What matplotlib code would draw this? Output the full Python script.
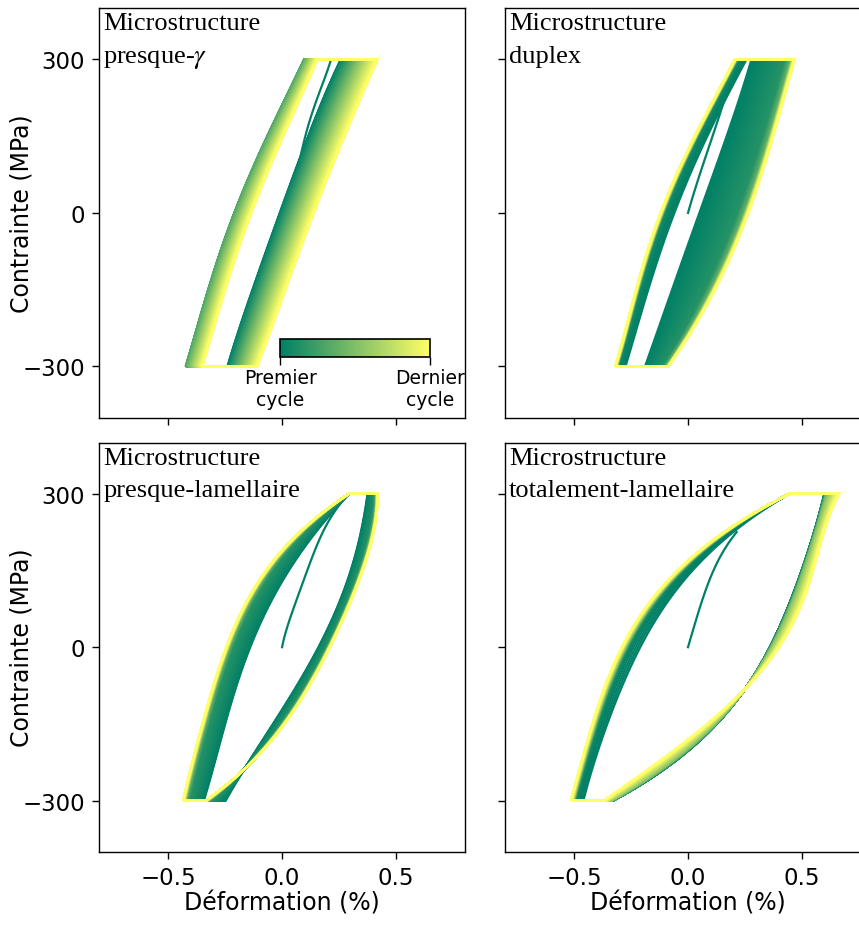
import numpy as np
import matplotlib
matplotlib.use("Agg")
import matplotlib.pyplot as plt
from matplotlib.collections import LineCollection
from matplotlib.cm import ScalarMappable
from matplotlib.colors import Normalize

# Stress levels (MPa) at which the branch strains (%) were read
stress_levels = [-300, -150, 0, 150, 300]
n_cycles = 200

# Panel 1: presque-gamma
pg_left_first = [-0.424, -0.325, -0.21, -0.065, 0.097]
pg_left_last = [-0.351, -0.25, -0.135, 0.005, 0.155]
pg_right_first = [-0.24, -0.13, -0.01, 0.115, 0.258]
pg_right_last = [-0.109, 0.015, 0.14, 0.275, 0.42]
pg_left_drift = ([0, 0.3, 1], [0.3, 0, 1])
pg_right_drift = ([0, 1], [0, 1])
pg_load_strain = [0, 0.053, 0.09, 0.126, 0.148, 0.192, 0.214]
pg_load_stress = [0, 60, 125, 184, 223, 263, 300]

# Panel 2: duplex
dx_left_first = [-0.275, -0.175, -0.06, 0.085, 0.257]
dx_left_last = [-0.32, -0.228, -0.12, 0.03, 0.206]
dx_right_first = [-0.189, -0.07, 0.05, 0.17, 0.279]
dx_right_last = [-0.086, 0.118, 0.265, 0.374, 0.469]
dx_left_drift = ([0, 0.03, 0.1, 1], [0, 0.5, 0.8, 1])
dx_right_drift = ([0, 0.15, 0.4, 1], [0, 0.8, 0.93, 1])
dx_load_strain = [0, 0.089, 0.177, 0.21]
dx_load_stress = [0, 125, 246, 300]

# Panel 3: presque-lamellaire
pl_left_first = [-0.344, -0.25, -0.14, 0.03, 0.295]
pl_left_last = [-0.435, -0.35, -0.245, -0.07, 0.295]
pl_right_first = [-0.248, -0.04, 0.16, 0.302, 0.376]
pl_right_last = [-0.336, 0.01, 0.21, 0.354, 0.42]
pl_left_drift = ([0, 0.15, 0.4, 1], [0, 0.75, 0.9, 1])
pl_right_drift = ([0, 0.15, 0.4, 1], [0, 0.75, 0.9, 1])
pl_load_strain = [0, 0.05, 0.11, 0.17, 0.23, 0.295]
pl_load_stress = [0, 75, 150, 215, 265, 300]

# Panel 4: totalement-lamellaire
tl_left_first = [-0.46, -0.355, -0.21, 0.02, 0.447]
tl_left_last = [-0.515, -0.42, -0.29, -0.045, 0.447]
tl_right_first = [-0.33, 0.126, 0.36, 0.50, 0.60]
tl_right_last = [-0.37, 0.085, 0.40, 0.55, 0.665]
tl_left_drift = ([0, 0.02, 0.1, 1], [0, 0.5, 0.7, 1])
tl_right_drift = ([0, 0.5, 1], [0, 0.2, 1])
tl_load_strain = [0, 0.04, 0.096, 0.17, 0.214]
tl_load_stress = [0, 60, 133, 198, 225]

titles = ["Microstructure\npresque-$\\gamma$", "Microstructure\nduplex",
          "Microstructure\npresque-lamellaire", "Microstructure\ntotalement-lamellaire"]

cmap = plt.get_cmap("summer")
plt.rcParams["mathtext.fontset"] = "stix"


def smooth(xk, yk, x):
    # smooth polynomial through the read points
    deg = min(4, len(xk) - 1)
    return np.polyval(np.polyfit(xk, yk, deg), x)


def draw_panel(ax, lf, ll, rf, rl, ldrift, rdrift, load_e, load_s):
    s_dense = np.linspace(-300, 300, 240)
    lf_c, ll_c = smooth(stress_levels, lf, s_dense), smooth(stress_levels, ll, s_dense)
    rf_c, rl_c = smooth(stress_levels, rf, s_dense), smooth(stress_levels, rl, s_dense)

    # first loading (up to where it joins the first cycle)
    s_load = np.linspace(0, max(load_s), 80)
    e_load = smooth(load_s, load_e, s_load)
    ax.plot(e_load, s_load, color=cmap(0.0), lw=1.6, zorder=2)

    segs, cols = [], []
    for k in range(n_cycles):
        t = k / (n_cycles - 1)
        a = np.interp(t, *ldrift)
        b = np.interp(t, *rdrift)
        left = lf_c * (1 - a) + ll_c * a
        right = rf_c * (1 - b) + rl_c * b
        x = np.concatenate([left, right[::-1], left[:1]])
        y = np.concatenate([s_dense, s_dense[::-1], s_dense[:1]])
        segs.append(np.column_stack([x, y]))
        cols.append(cmap(t))
    lc = LineCollection(segs, colors=cols, linewidths=1.6, zorder=3,
                        capstyle="butt", joinstyle="miter")
    ax.add_collection(lc)


fig, axes = plt.subplots(2, 2, sharex=True, sharey=True, figsize=(8.59, 9.28), dpi=100)
fig.subplots_adjust(left=0.1153, right=1.014, bottom=0.081, top=0.990,
                    wspace=0.109, hspace=0.061)

panels = [
    (pg_left_first, pg_left_last, pg_right_first, pg_right_last,
     pg_left_drift, pg_right_drift, pg_load_strain, pg_load_stress),
    (dx_left_first, dx_left_last, dx_right_first, dx_right_last,
     dx_left_drift, dx_right_drift, dx_load_strain, dx_load_stress),
    (pl_left_first, pl_left_last, pl_right_first, pl_right_last,
     pl_left_drift, pl_right_drift, pl_load_strain, pl_load_stress),
    (tl_left_first, tl_left_last, tl_right_first, tl_right_last,
     tl_left_drift, tl_right_drift, tl_load_strain, tl_load_stress),
]

for ax, data, title in zip(axes.flat, panels, titles):
    draw_panel(ax, *data)
    ax.text(0.011, 0.99, title, transform=ax.transAxes, ha="left", va="top",
            family="Liberation Serif", fontsize=19, linespacing=1.6, zorder=5)
    ax.tick_params(labelsize=16.5, length=5, width=1)
    ax.tick_params(axis="x", pad=5)
    ax.tick_params(axis="y", pad=5)
    for sp in ax.spines.values():
        sp.set_linewidth(1.0)

ax0 = axes[0, 0]
ax0.set_xlim(-0.805, 0.805)
ax0.set_ylim(-400, 400)
ax0.set_xticks([-0.5, 0.0, 0.5])
ax0.set_yticks([-300, 0, 300])

for ax in axes[:, 0]:
    ax.set_ylabel("Contrainte (MPa)", fontsize=17)
    ax.yaxis.set_label_coords(-0.18, 0.5)
for ax in axes[1, :]:
    ax.set_xlabel("Déformation (%)", fontsize=17, labelpad=1)

# cycle colour bar inside the first panel
cax = ax0.inset_axes([0.495, 0.149, 0.41, 0.042])
cb = fig.colorbar(ScalarMappable(norm=Normalize(0, 1), cmap=cmap), cax=cax,
                  orientation="horizontal", ticks=[0, 1])
cb.ax.set_xticklabels(["Premier\ncycle", "Dernier\ncycle"], fontsize=13.5)
cb.ax.tick_params(length=6, width=1, pad=2)
cb.outline.set_linewidth(1.2)

fig.savefig("out.png", dpi=100)
